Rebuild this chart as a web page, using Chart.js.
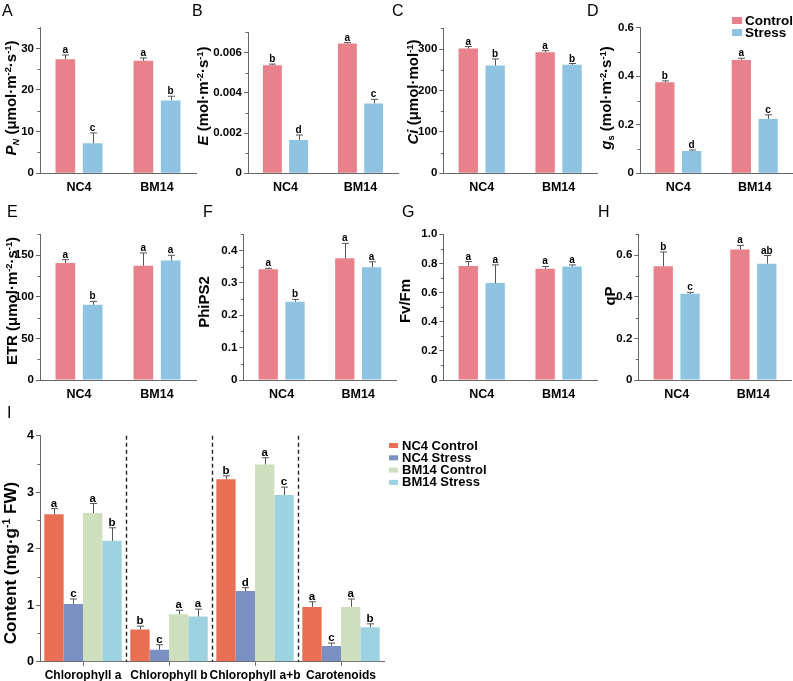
<!DOCTYPE html>
<html>
<head>
<meta charset="utf-8">
<script src="https://cdn.jsdelivr.net/npm/chart.js@4/dist/chart.umd.min.js"></script>
<style>
  body { margin: 0; background: #fff; }
  #wrap { position: relative; width: 793px; height: 681px; }
  #wrap canvas { position: absolute; left: 0; top: 0; }
</style>
</head>
<body>
<div id="wrap"></div>
<script>
// ---- data ----
const genotypes = ['NC4', 'BM14'];
const treatments = ['Control', 'Stress'];

// A  Pn
const pnControl = [27.4, 27.0], pnControlSd = [1.0, 0.7];
const pnStress = [7.2, 17.5], pnStressSd = [2.5, 1.0];
const pnLetters = [['a', 'a'], ['c', 'b']];
const pnTicks = [0, 10, 20, 30];
// B  E
const eControl = [0.00537, 0.00645], eControlSd = [0.00005, 0.00004];
const eStress = [0.00165, 0.00347], eStressSd = [0.00025, 0.0002];
const eLetters = [['b', 'a'], ['d', 'c']];
const eTicks = [0, 0.002, 0.004, 0.006];
// C  Ci
const ciControl = [301, 292], ciControlSd = [5, 4];
const ciStress = [260, 262], ciStressSd = [16, 3];
const ciLetters = [['a', 'a'], ['b', 'b']];
const ciTicks = [0, 100, 200, 300];
// D  gs
const gsControl = [0.375, 0.467], gsControlSd = [0.006, 0.007];
const gsStress = [0.092, 0.224], gsStressSd = [0.004, 0.017];
const gsLetters = [['b', 'a'], ['d', 'c']];
const gsTicks = [0, 0.2, 0.4, 0.6];
// E  ETR
const etrControl = [140.6, 137.3], etrControlSd = [4, 15.3];
const etrStress = [90.4, 143.4], etrStressSd = [4, 6.4];
const etrLetters = [['a', 'a'], ['b', 'a']];
const etrTicks = [0, 50, 100, 150];
// F  PhiPS2
const phiControl = [0.342, 0.376], phiControlSd = [0.003, 0.046];
const phiStress = [0.242, 0.348], phiStressSd = [0.007, 0.017];
const phiLetters = [['a', 'a'], ['b', 'a']];
const phiTicks = [0, 0.1, 0.2, 0.3, 0.4];
// G  Fv/Fm
const fvControl = [0.783, 0.763], fvControlSd = [0.03, 0.016];
const fvStress = [0.665, 0.779], fvStressSd = [0.125, 0.011];
const fvLetters = [['a', 'a'], ['a', 'a']];
const fvTicks = [0, 0.2, 0.4, 0.6, 0.8, 1.0];
// H  qP
const qpControl = [0.546, 0.627], qpControlSd = [0.069, 0.02];
const qpStress = [0.414, 0.559], qpStressSd = [0.007, 0.039];
const qpLetters = [['b', 'a'], ['c', 'ab']];
const qpTicks = [0, 0.2, 0.4, 0.6];
// I  pigments
const pigments = ['Chlorophyll a', 'Chlorophyll b', 'Chlorophyll a+b', 'Carotenoids'];
const pigSeries = ['NC4 Control', 'NC4 Stress', 'BM14 Control', 'BM14 Stress'];
const nc4Control = [2.61, 0.57, 3.23, 0.97], nc4ControlSd = [0.10, 0.06, 0.06, 0.09];
const nc4Stress = [1.02, 0.21, 1.25, 0.28], nc4StressSd = [0.09, 0.09, 0.06, 0.05];
const bm14Control = [2.63, 0.84, 3.49, 0.97], bm14ControlSd = [0.17, 0.07, 0.12, 0.14];
const bm14Stress = [2.14, 0.80, 2.95, 0.61], bm14StressSd = [0.23, 0.13, 0.14, 0.06];
const pigLetters = [['a', 'b', 'b', 'a'], ['c', 'c', 'd', 'c'], ['a', 'a', 'a', 'a'], ['b', 'a', 'c', 'b']];
const pigTicks = [0, 1, 2, 3, 4];

// ---- style ----
const W = 793, H = 681, YW = 40, XH = 22;
const FONT = 'Arial, "Liberation Sans", sans-serif';
const AX = '#666';
const RED = '#E8818C', BLUE = '#8EC4E2';
const PIG_COLORS = ['#E86F54', '#7A8FC2', '#CEDFBD', '#9DD2E1'];

const fmt0 = v => String(v);
const fmt1 = v => v === 0 ? '0' : v.toFixed(1);
const fmt3 = v => v === 0 ? '0' : v.toFixed(3);

function pair(c, cs, s, ss, letters) {
  return [
    { name: treatments[0], data: c, sd: cs, letters: letters[0], color: RED },
    { name: treatments[1], data: s, sd: ss, letters: letters[1], color: BLUE }
  ];
}

const unitM2 = [[' (μmol·m', 'n'], ['-2', 'sup'], ['·s', 'n'], ['-1', 'sup'], [')', 'n']];
const molM2 = [[' (mol·m', 'n'], ['-2', 'sup'], ['·s', 'n'], ['-1', 'sup'], [')', 'n']];

const panels = [
  { tag: 'A', tagPos: [2, 4], area: [40, 27.5, 196, 173.3], max: 35, ticks: pnTicks, fmt: fmt0,
    series: pair(pnControl, pnControlSd, pnStress, pnStressSd, pnLetters),
    title: [['P', 'i'], ['N', 'isub']].concat(unitM2), titlePos: [11, 98] },
  { tag: 'B', tagPos: [192, 4], area: [248, 32.3, 398, 173.3], max: 0.007, ticks: eTicks, fmt: fmt3,
    series: pair(eControl, eControlSd, eStress, eStressSd, eLetters),
    title: [['E', 'i']].concat(molM2), titlePos: [203, 96] },
  { tag: 'C', tagPos: [392, 4], area: [443.3, 28.3, 597, 173.3], max: 350, ticks: ciTicks, fmt: fmt0,
    series: pair(ciControl, ciControlSd, ciStress, ciStressSd, ciLetters),
    title: [['Ci', 'i'], [' (μmol·mol', 'n'], ['-1', 'sup'], [')', 'n']], titlePos: [413, 92] },
  { tag: 'D', tagPos: [587, 4], area: [640, 27.7, 793, 173.3], max: 0.6, ticks: gsTicks, fmt: fmt1,
    series: pair(gsControl, gsControlSd, gsStress, gsStressSd, gsLetters),
    title: [['g', 'i'], ['s', 'sub']].concat(molM2), titlePos: [606, 98], legend: 'top' },
  { tag: 'E', tagPos: [7, 205], area: [40, 234.3, 196, 380], max: 175, ticks: etrTicks, fmt: fmt0,
    series: pair(etrControl, etrControlSd, etrStress, etrStressSd, etrLetters),
    title: [['ETR', 'n']].concat(unitM2), titlePos: [12, 301] },
  { tag: 'F', tagPos: [203, 205], area: [243.3, 234.3, 396.5, 380], max: 0.45, ticks: phiTicks, fmt: fmt1,
    series: pair(phiControl, phiControlSd, phiStress, phiStressSd, phiLetters),
    title: [['PhiPS2', 'n']], titlePos: [204, 302] },
  { tag: 'G', tagPos: [402, 205], area: [443.3, 234.3, 597, 380], max: 1.0, ticks: fvTicks, fmt: fmt1,
    series: pair(fvControl, fvControlSd, fvStress, fvStressSd, fvLetters),
    title: [['Fv/Fm', 'n']], titlePos: [405, 301] },
  { tag: 'H', tagPos: [598, 205], area: [638.3, 234.3, 791.7, 380], max: 0.7, ticks: qpTicks, fmt: fmt1,
    series: pair(qpControl, qpControlSd, qpStress, qpStressSd, qpLetters),
    title: [['qP', 'n']], titlePos: [610, 296] },
  { tag: 'I', tagPos: [7, 406], area: [40, 435.7, 384, 661.7], max: 4, ticks: pigTicks, fmt: fmt0,
    labels: pigments, big: true,
    series: [nc4Control, nc4Stress, bm14Control, bm14Stress].map((d, i) => ({
      name: pigSeries[i], data: d, sd: [nc4ControlSd, nc4StressSd, bm14ControlSd, bm14StressSd][i],
      letters: pigLetters[i], color: PIG_COLORS[i] })),
    title: [['Content (mg·g', 'n'], ['-1', 'sup'], [' FW)', 'n']], titlePos: [10, 563], titleSize: 17,
    legend: 'side', separators: true }
];

function drawRich(ctx, segs, cx, cy, size) {
  const fontFor = k => (k === 'i' || k === 'isub' ? 'italic bold ' : 'bold ') +
    (k === 'sub' || k === 'isub' || k === 'sup' ? size * 0.62 : size) + 'px ' + FONT;
  let total = 0;
  segs.forEach(([t, k]) => { ctx.font = fontFor(k); total += ctx.measureText(t).width; });
  ctx.save();
  ctx.translate(cx, cy);
  ctx.rotate(-Math.PI / 2);
  ctx.fillStyle = '#000';
  ctx.textAlign = 'left';
  ctx.textBaseline = 'alphabetic';
  let x = -total / 2;
  const base = size * 0.36;
  segs.forEach(([t, k]) => {
    ctx.font = fontFor(k);
    const dy = k === 'sup' ? -size * 0.38 : (k === 'sub' || k === 'isub') ? size * 0.2 : 0;
    ctx.fillText(t, x, base + dy);
    x += ctx.measureText(t).width;
  });
  ctx.restore();
}

function makePanel(p) {
  const canvas = document.createElement('canvas');
  canvas.width = W; canvas.height = H;
  document.getElementById('wrap').appendChild(canvas);
  const [L, T, R, B] = p.area;

  const deco = {
    id: 'deco',
    afterDraw(chart) {
      const ctx = chart.ctx;
      const ys = chart.scales.y, xs = chart.scales.x, ca = chart.chartArea;
      ctx.save();
      // minor ticks halfway between the labelled ones
      ctx.strokeStyle = AX; ctx.lineWidth = 1;
      for (let i = 0; i < p.ticks.length; i++) {
        const next = i + 1 < p.ticks.length ? p.ticks[i + 1] : p.ticks[i] + (p.ticks[1] - p.ticks[0]);
        const mid = (p.ticks[i] + next) / 2;
        if (mid > p.max) continue;
        const y = Math.round(ys.getPixelForValue(mid)) + 0.5;
        ctx.beginPath(); ctx.moveTo(ca.left - 2.5, y); ctx.lineTo(ca.left, y); ctx.stroke();
      }
      // dashed separators between pigment groups
      if (p.separators) {
        ctx.strokeStyle = '#222'; ctx.lineWidth = 1.4; ctx.setLineDash([4, 3]);
        for (let i = 0; i < p.labels.length - 1; i++) {
          const x = Math.round((xs.getPixelForValue(i) + xs.getPixelForValue(i + 1)) / 2) + 0.5;
          ctx.beginPath(); ctx.moveTo(x, ca.top); ctx.lineTo(x, ca.bottom); ctx.stroke();
        }
        ctx.setLineDash([]);
      }
      // error bars and significance letters
      p.series.forEach((s, i) => {
        chart.getDatasetMeta(i).data.forEach((el, j) => {
          const top = ys.getPixelForValue(s.data[j] + s.sd[j]);
          const x = Math.round(el.x) + 0.5;
          ctx.strokeStyle = '#555'; ctx.lineWidth = 1;
          ctx.beginPath();
          ctx.moveTo(x, el.y); ctx.lineTo(x, top);
          ctx.moveTo(x - 3.5, top); ctx.lineTo(x + 3.5, top);
          ctx.stroke();
          ctx.fillStyle = '#000';
          ctx.font = 'bold ' + (p.big ? 11.5 : 10) + 'px ' + FONT;
          ctx.textAlign = 'center'; ctx.textBaseline = 'alphabetic';
          ctx.fillText(s.letters[j], el.x, top - 2);
        });
      });
      // axis title
      drawRich(ctx, p.title, p.titlePos[0], p.titlePos[1], p.titleSize || 15);
      // panel tag
      ctx.fillStyle = '#000'; ctx.font = '16px ' + FONT;
      ctx.textAlign = 'left'; ctx.textBaseline = 'top';
      ctx.fillText(p.tag, p.tagPos[0], p.tagPos[1]);
      // legends
      if (p.legend === 'top') {
        ctx.font = 'bold 13.5px ' + FONT; ctx.textBaseline = 'middle';
        p.series.forEach((s, i) => {
          const cy = 20.5 + i * 12;
          ctx.fillStyle = s.color; ctx.fillRect(732, cy - 3.5, 10, 7);
          ctx.fillStyle = '#000'; ctx.fillText(s.name, 745, cy + 0.5);
        });
      } else if (p.legend === 'side') {
        ctx.font = 'bold 13px ' + FONT; ctx.textBaseline = 'middle';
        p.series.forEach((s, i) => {
          const cy = 445.5 + i * 12.3;
          ctx.fillStyle = s.color; ctx.fillRect(389, cy - 2.5, 9, 5);
          ctx.fillStyle = '#000'; ctx.fillText(s.name, 402, cy + 0.5);
        });
      }
      ctx.restore();
    }
  };

  new Chart(canvas, {
    type: 'bar',
    data: {
      labels: p.labels || genotypes,
      datasets: p.series.map(s => ({
        label: s.name, data: s.data, backgroundColor: s.color, borderWidth: 0,
        categoryPercentage: p.big ? 0.9 : 0.7, barPercentage: p.big ? 1.0 : 0.72
      }))
    },
    options: {
      responsive: false, animation: false, devicePixelRatio: 1, events: [],
      layout: { padding: { left: L - YW, top: T, right: W - R, bottom: H - B - XH } },
      plugins: { legend: { display: false }, tooltip: { enabled: false } },
      scales: {
        x: {
          offset: true,
          grid: { drawOnChartArea: false, offset: false, tickLength: 4, tickColor: p.big ? AX : 'rgba(0,0,0,0)' },
          border: { color: AX, width: 1 },
          ticks: { color: '#000', font: { family: FONT, weight: 'bold', size: p.big ? 12 : 12.5 },
                   padding: 3, autoSkip: false, maxRotation: 0 },
          afterFit: s => { s.height = XH; }
        },
        y: {
          min: 0, max: p.max,
          afterBuildTicks: s => { s.ticks = p.ticks.map(v => ({ value: v })); },
          grid: { drawOnChartArea: false, tickLength: 4, tickColor: AX },
          border: { color: AX, width: 1 },
          ticks: { color: '#000', font: { family: FONT, weight: 'bold', size: p.big ? 12.5 : 11.5 },
                   padding: 2, callback: p.fmt },
          afterFit: s => { s.width = YW; }
        }
      }
    },
    plugins: [deco]
  });
}

panels.forEach(makePanel);
</script>
</body>
</html>
